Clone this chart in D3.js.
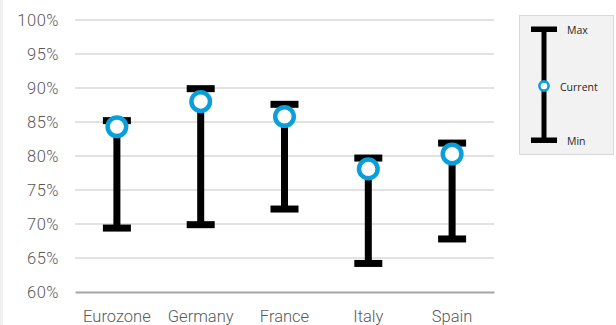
<!DOCTYPE html>
<html><head><meta charset="utf-8">
<script src="https://cdn.jsdelivr.net/npm/d3@7"></script>
<style>html,body{margin:0;padding:0;background:#fff;}svg{display:block;}</style>
</head><body>
<svg id="chart" width="616" height="325"></svg>
<script>
const categories = ["Eurozone", "Germany", "France", "Italy", "Spain"];
const maxValues = [0.852, 0.899, 0.876, 0.797, 0.819];
const minValues = [0.694, 0.699, 0.722, 0.642, 0.678];
const currentValues = [0.843, 0.880, 0.858, 0.781, 0.803];
const yTicks = [0.60, 0.65, 0.70, 0.75, 0.80, 0.85, 0.90, 0.95, 1.00];
const legendLabels = ["Max", "Current", "Min"];

const svg = d3.select("#chart");
const blue = "#0a9fd8";

svg.append("rect").attr("x", 0).attr("y", 0).attr("width", 3).attr("height", 325).attr("fill", "#f0f0f0");

const x = d3.scaleBand().domain(categories).range([75, 494]).padding(0);
const y = d3.scaleLinear().domain([0.6, 1.0]).range([292, 20]);

// gridlines
svg.append("g").selectAll("line").data(yTicks.filter(t => t > 0.6)).join("line")
  .attr("x1", 75).attr("x2", 494)
  .attr("y1", d => y(d)).attr("y2", d => y(d))
  .attr("stroke", "#d9d9d9").attr("stroke-width", 1.5);

const fontFam = "Roboto, 'Helvetica Neue', sans-serif";
// y axis labels
const yAxis = d3.axisLeft(y).tickValues(yTicks).tickFormat(d3.format(".0%")).tickSize(0).tickPadding(0);
const gy = svg.append("g").attr("transform", "translate(59,0)").call(yAxis);
gy.select(".domain").remove();
gy.selectAll("text").attr("font-family", fontFam).attr("font-weight", 300)
  .attr("font-size", 16.5).attr("fill", "#595959").attr("letter-spacing", 0.5);

// x axis
const xAxis = d3.axisBottom(x).tickSize(0).tickPadding(0);
const gx = svg.append("g").attr("transform", "translate(0,292)").call(xAxis);
gx.select(".domain").attr("stroke", "#a6a6a6").attr("stroke-width", 2);
gx.selectAll("text").attr("font-family", fontFam).attr("font-weight", 300)
  .attr("font-size", 16.5).attr("fill", "#595959").attr("dy", 0).attr("y", 30);

const data = categories.map((c, i) => ({c, max: maxValues[i], min: minValues[i], cur: currentValues[i]}));
const g = svg.append("g");
const cx = d => x(d.c) + x.bandwidth() / 2;
// vertical lines
g.selectAll("rect.hl").data(data).join("rect").attr("class", "hl")
  .attr("x", d => cx(d) - 3.5).attr("width", 7)
  .attr("y", d => y(d.max)).attr("height", d => y(d.min) - y(d.max)).attr("fill", "#000");
// caps
["max", "min"].forEach(k => {
  g.selectAll("rect.cap-" + k).data(data).join("rect").attr("class", "cap-" + k)
    .attr("x", d => cx(d) - 14).attr("width", 28)
    .attr("y", d => y(d[k]) - 3.5).attr("height", 7).attr("fill", "#000");
});
// current markers
g.selectAll("circle").data(data).join("circle")
  .attr("cx", cx).attr("cy", d => y(d.cur)).attr("r", 9.3)
  .attr("fill", "#fff").attr("stroke", blue).attr("stroke-width", 4.5);

// legend
const lg = svg.append("g");
lg.append("rect").attr("x", 519.5).attr("y", 15.5).attr("width", 94).attr("height", 139)
  .attr("fill", "#f2f2f2").attr("stroke", "#d9d9d9");
lg.append("rect").attr("x", 541.5).attr("y", 29).attr("width", 5).attr("height", 112).attr("fill", "#000");
lg.append("rect").attr("x", 531).attr("y", 26.5).attr("width", 26).attr("height", 5.5).attr("fill", "#000");
lg.append("rect").attr("x", 531).attr("y", 137.5).attr("width", 26).attr("height", 5.5).attr("fill", "#000");
lg.append("circle").attr("cx", 544).attr("cy", 86).attr("r", 4.6).attr("fill", "#fff")
  .attr("stroke", blue).attr("stroke-width", 2.6);
const legPos = [[567, 30], [560, 87], [567, 141]];
lg.selectAll("text").data(legendLabels).join("text")
  .attr("x", (d, i) => legPos[i][0]).attr("y", (d, i) => legPos[i][1])
  .attr("dominant-baseline", "central")
  .attr("font-family", "'Open Sans', sans-serif").attr("font-size", 10.5)
  .attr("fill", "#262626").text(d => d);
</script>
</body></html>
